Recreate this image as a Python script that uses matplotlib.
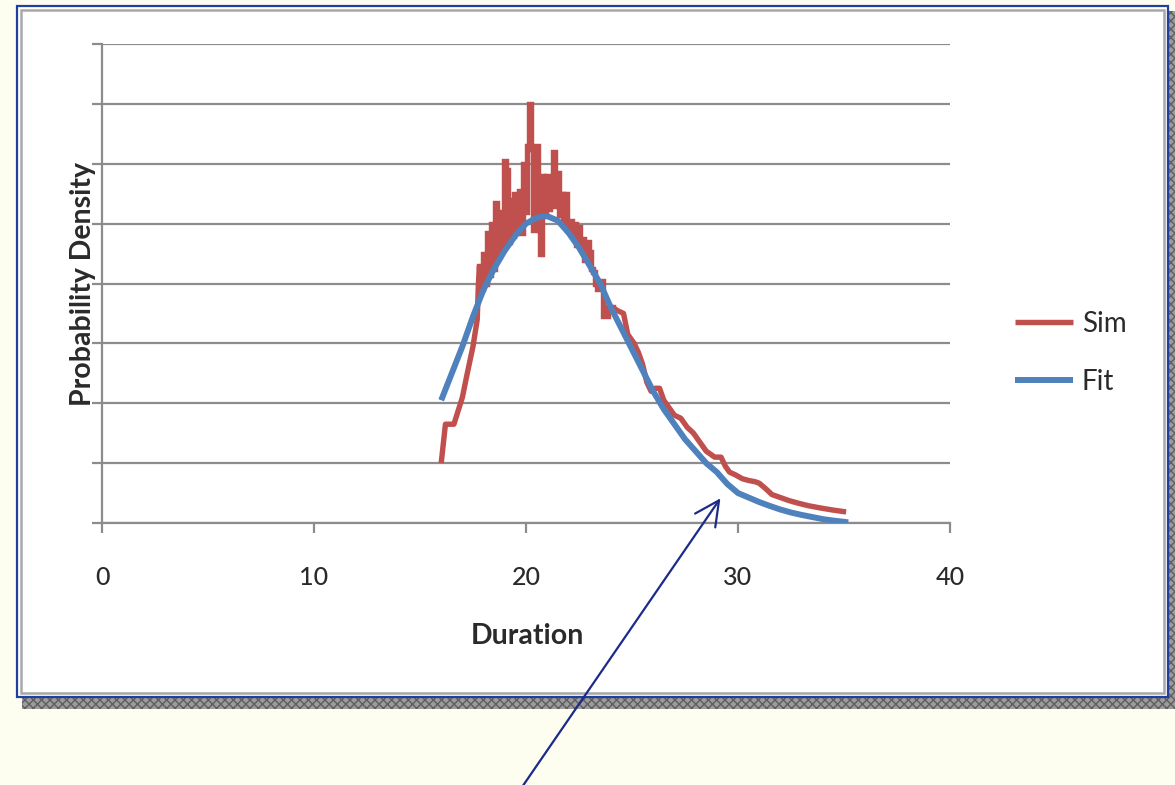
import matplotlib
matplotlib.use("Agg")
import matplotlib.pyplot as plt
from matplotlib.patches import Rectangle, FancyArrowPatch

# ---------------- data ----------------
sim_x = [16.0, 16.2, 16.6, 17.0, 17.2, 17.5, 17.7, 17.75,
         17.8, 17.9, 18.0, 18.1, 18.2, 18.3, 18.4, 18.5, 18.6, 18.7, 18.8, 18.9,
         19.0, 19.1, 19.2, 19.3, 19.4, 19.5, 19.6, 19.7, 19.8, 19.9,
         20.0, 20.1, 20.2, 20.3, 20.4, 20.5, 20.6, 20.7, 20.8, 20.9,
         21.0, 21.1, 21.2, 21.3, 21.4, 21.5, 21.6, 21.7, 21.8, 21.9,
         22.0, 22.1, 22.2, 22.3, 22.4, 22.5, 22.6, 22.7, 22.8, 22.9,
         23.0, 23.1, 23.2, 23.3, 23.4, 23.5, 23.6, 23.7, 23.8, 23.9, 24.0,
         24.1, 24.3, 24.6, 24.8, 25.1, 25.3, 25.5, 25.7, 25.9, 26.1, 26.3,
         26.5, 26.8, 27.0, 27.3, 27.6, 27.9, 28.2, 28.5, 28.7, 28.9, 29.2,
         29.4, 29.6, 29.9, 30.2, 30.5, 30.8, 31.0, 31.3, 31.6, 32.0, 32.4,
         32.8, 33.3, 33.9, 34.5, 35.1]
sim_y = [0.020, 0.033, 0.033, 0.042, 0.049, 0.059, 0.068, 0.079,
         0.086, 0.078, 0.090, 0.080, 0.097, 0.083, 0.100, 0.085, 0.107, 0.090, 0.104, 0.092,
         0.121, 0.118, 0.094, 0.108, 0.096, 0.110, 0.098, 0.111, 0.097, 0.120,
         0.104, 0.126, 0.140, 0.125, 0.098, 0.126, 0.103, 0.090, 0.116, 0.104,
         0.116, 0.105, 0.115, 0.124, 0.106, 0.117, 0.103, 0.110, 0.101, 0.110,
         0.098, 0.101, 0.096, 0.100, 0.093, 0.099, 0.092, 0.095, 0.088, 0.094,
         0.0905, 0.085, 0.084, 0.080, 0.078, 0.080, 0.081, 0.069, 0.069, 0.072, 0.071,
         0.072, 0.071, 0.070, 0.063, 0.060, 0.057, 0.053, 0.047, 0.044, 0.045, 0.045,
         0.041, 0.038, 0.036, 0.035, 0.032, 0.030, 0.027, 0.024, 0.023, 0.022, 0.022,
         0.019, 0.017, 0.016, 0.0148, 0.0142, 0.0138, 0.0133, 0.0115, 0.0095, 0.0085, 0.0075,
         0.0067, 0.0058, 0.0050, 0.0043, 0.0037]

fit_x = [16.0, 16.5, 17.0, 17.5, 18.0, 18.5, 19.0, 19.5, 20.0, 20.5, 21.0,
         21.5, 22.0, 22.5, 23.0, 23.5, 24.0, 24.5, 25.0, 25.5, 26.0, 26.5,
         27.0, 27.5, 28.0, 28.5, 29.0, 29.5, 30.0, 30.5, 31.0, 31.5, 32.0,
         32.5, 33.0, 33.5, 34.0, 34.5, 35.0, 35.2]
fit_y = [0.041, 0.050, 0.059, 0.069, 0.078, 0.085, 0.091, 0.096, 0.100, 0.102, 0.1025,
         0.101, 0.097, 0.092, 0.086, 0.080, 0.072, 0.065, 0.058, 0.051, 0.044, 0.038,
         0.033, 0.028, 0.024, 0.020, 0.017, 0.013, 0.010, 0.0085, 0.007, 0.0057, 0.0045,
         0.0035, 0.0027, 0.0020, 0.0013, 0.0008, 0.0004, 0.0002]

x_ticks = [0, 10, 20, 30, 40]
y_grid = [0.00, 0.02, 0.04, 0.06, 0.08, 0.10, 0.12, 0.14, 0.16]

# ---------------- figure ----------------
W, H = 1175, 785
fig = plt.figure(figsize=(W / 100, H / 100), dpi=100)
fig.patch.set_facecolor("#FDFDF0")

def fx(px):
    return px / W

def fy(py):
    return 1 - py / H

# shadow (patterned grey) behind chart box
shadow = Rectangle((fx(22), fy(709)), fx(1175) - fx(22), fy(11) - fy(709),
                   transform=fig.transFigure, facecolor="#9C9C9C",
                   edgecolor="#5E5E5E", hatch="xxxx", linewidth=0, zorder=-10)
fig.add_artist(shadow)
# chart box
box = Rectangle((fx(17), fy(697)), fx(1168) - fx(17), fy(6) - fy(697),
                transform=fig.transFigure, facecolor="white",
                edgecolor="#2040A0", linewidth=1.6, zorder=-9)
fig.add_artist(box)
inner = Rectangle((fx(21), fy(693)), fx(1164) - fx(21), fy(10) - fy(693),
                  transform=fig.transFigure, facecolor="none",
                  edgecolor="#A8A8A8", linewidth=1.8, zorder=-8)
fig.add_artist(inner)

ax = fig.add_axes([fx(102), fy(523), fx(950) - fx(102), fy(44) - fy(523)])
ax.set_facecolor("none")

font = "Lato"
txt_col = "#2A2A2A"
sim_col = "#C0504D"

# noisy part of the simulation drawn as steps, rise and tail as plain lines
s1 = sim_x.index(17.8)
s2 = sim_x.index(24.1)
ax.plot(sim_x[:s1 + 1], sim_y[:s1 + 1], color=sim_col, linewidth=3.9,
        label="Sim", solid_joinstyle="round", solid_capstyle="butt", zorder=3)
ax.plot(sim_x[s1:s2 + 1], sim_y[s1:s2 + 1], color=sim_col, linewidth=3.9,
        label="_nolegend_", drawstyle="steps-mid", solid_joinstyle="miter",
        zorder=3)
ax.plot(sim_x[s2:], sim_y[s2:], color=sim_col, linewidth=3.9,
        label="_nolegend_", solid_joinstyle="round", solid_capstyle="butt",
        zorder=3)
ax.plot(fit_x, fit_y, color="#4F81BD", linewidth=4.3, label="Fit",
        solid_capstyle="butt", zorder=4)

ax.set_xlim(0, 40)
ax.set_ylim(0, 0.16)
ax.set_xticks(x_ticks)
ax.set_yticks(y_grid)
ax.set_yticklabels([])
ax.set_xticklabels([str(t) for t in x_ticks], fontfamily=font, fontsize=18,
                   color=txt_col, fontweight="medium")
ax.yaxis.grid(True, color="#8C8C8C", linewidth=1.6, zorder=1)
ax.set_axisbelow(True)
for s in ["top", "right"]:
    ax.spines[s].set_visible(False)
for s in ["left", "bottom"]:
    ax.spines[s].set_color("#8C8C8C")
    ax.spines[s].set_linewidth(1.6)
ax.tick_params(axis="both", direction="out", length=7, width=1.6,
               color="#8C8C8C")
ax.tick_params(axis="x", pad=24)

ax.set_xlabel("Duration", fontfamily=font, fontsize=20.5, fontweight="bold",
              color=txt_col)
ax.xaxis.label.set_va("center")
ax.xaxis.set_label_coords((527 - 102) / 848, (523 - 636) / 479)
ax.set_ylabel("Probability Density", fontfamily=font, fontsize=20.5,
              fontweight="bold", color=txt_col)
ax.yaxis.label.set_va("center")
ax.yaxis.set_label_coords((83 - 102) / 848, (523 - 284) / 479)

leg = fig.legend(loc="center left", bbox_to_anchor=(fx(1015), fy(353)),
                 frameon=False, borderpad=0, borderaxespad=0,
                 handlelength=2.1, handletextpad=0.3, labelspacing=1.15,
                 prop={"family": font, "size": 20})
for t in leg.get_texts():
    t.set_color(txt_col)

arrow = FancyArrowPatch((fx(520), fy(790)), (fx(722), fy(496)),
                        transform=fig.transFigure,
                        arrowstyle="->,head_length=0.8,head_width=0.4",
                        mutation_scale=22, color="#1C2A8C", linewidth=1.6,
                        zorder=10)
fig.add_artist(arrow)

fig.savefig("out.png", dpi=100, facecolor=fig.get_facecolor())
